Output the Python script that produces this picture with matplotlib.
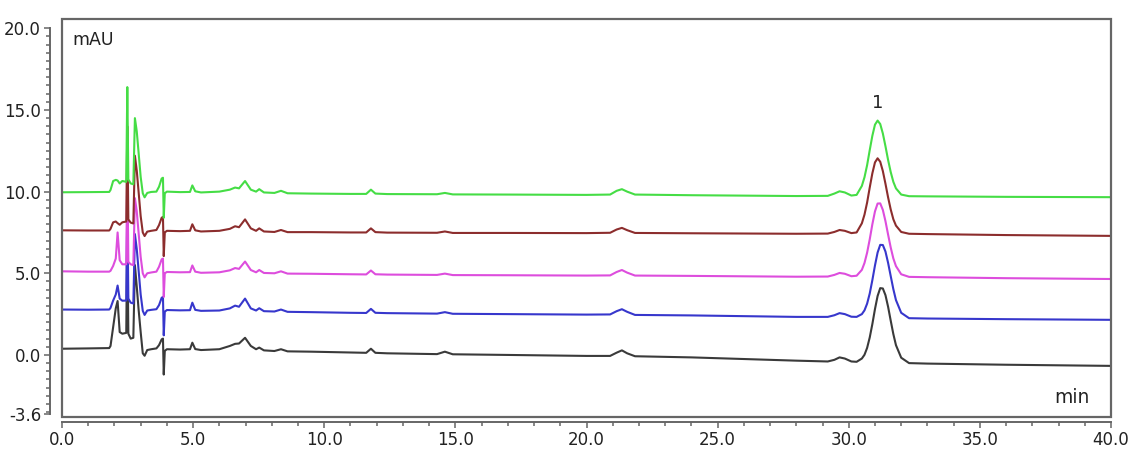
import matplotlib
matplotlib.use("Agg")
import matplotlib.pyplot as plt
from matplotlib.patches import Rectangle
from matplotlib.ticker import MultipleLocator, FixedLocator, FormatStrFormatter
import numpy as np

# retention time grid (min), shared by all five runs
t_min = [
    # early / solvent front region
    0.0, 1.0, 1.8, 1.85, 1.95, 2.05, 2.12, 2.2, 2.3, 2.45,
    2.49, 2.53, 2.62, 2.72, 2.78, 2.85, 2.92, 3.0, 3.08, 3.15,
    3.25, 3.4, 3.6, 3.7, 3.8, 3.85, 3.88, 3.92, 4.0,
    # small peaks
    4.5, 4.88, 4.97, 5.08, 5.3, 6.0, 6.4, 6.6, 6.75, 6.98,
    7.2, 7.4, 7.52, 7.7, 8.1, 8.35, 8.6, 9.5, 11.0, 11.6,
    11.78, 11.95, 12.4, 14.3, 14.6, 14.9, 17.0, 20.0, 20.9, 21.15,
    21.35, 21.55, 21.85, 24.0, 28.0, 29.2, 29.45, 29.65, 29.85, 30.1,
    # peak 1
    30.3, 30.5, 30.6, 30.7, 30.8, 30.9, 31.0, 31.1, 31.2, 31.3,
    31.4, 31.5, 31.6, 31.7, 31.8, 32.0, 32.3, 33.0, 36.0, 40.0,
]

green_mau = [
    9.96, 9.97, 9.98, 10.1, 10.65, 10.72, 10.68, 10.5, 10.65, 10.6,
    16.4, 10.75, 10.5, 10.45, 14.5, 13.7, 12.4, 10.9, 9.9, 9.65,
    9.92, 9.98, 10.0, 10.3, 10.8, 10.85, 8.4, 9.9, 10.0,
    9.97, 9.98, 10.38, 10.02, 9.95, 10.0, 10.12, 10.25, 10.2, 10.65,
    10.12, 10.0, 10.15, 9.95, 9.92, 10.05, 9.9, 9.88, 9.86, 9.86,
    10.12, 9.88, 9.85, 9.84, 9.92, 9.83, 9.82, 9.8, 9.82, 10.05,
    10.15, 10.0, 9.82, 9.78, 9.73, 9.74, 9.88, 10.02, 9.95, 9.76,
    9.8, 10.35, 10.88, 11.62, 12.54, 13.42, 14.1, 14.35, 14.14, 13.56,
    12.78, 11.94, 11.2, 10.6, 10.2, 9.82, 9.72, 9.71, 9.68, 9.66,
]

brown_mau = [
    7.63, 7.62, 7.62, 7.72, 8.12, 8.17, 8.07, 7.97, 8.12, 8.17,
    14.0, 8.3, 8.1, 8.05, 12.2, 11.3, 10.0, 8.5, 7.5, 7.28,
    7.55, 7.6, 7.65, 7.95, 8.4, 8.45, 6.05, 7.5, 7.6,
    7.58, 7.6, 8.0, 7.63, 7.56, 7.6, 7.72, 7.88, 7.82, 8.3,
    7.75, 7.6, 7.75, 7.56, 7.53, 7.65, 7.52, 7.52, 7.5, 7.5,
    7.75, 7.52, 7.49, 7.48, 7.56, 7.47, 7.47, 7.46, 7.48, 7.68,
    7.78, 7.64, 7.47, 7.45, 7.42, 7.43, 7.53, 7.65, 7.6, 7.46,
    7.5, 8.06, 8.59, 9.33, 10.25, 11.12, 11.79, 12.04, 11.83, 11.26,
    10.48, 9.65, 8.91, 8.31, 7.92, 7.53, 7.42, 7.4, 7.34, 7.29,
]

magenta_mau = [
    5.12, 5.1, 5.1, 5.15, 5.45, 5.9, 7.5, 5.8, 5.55, 5.55,
    11.5, 5.7, 5.55, 5.5, 9.6, 8.8, 7.5, 6.0, 5.0, 4.75,
    5.0, 5.05, 5.1, 5.4, 5.85, 5.9, 3.55, 5.0, 5.08,
    5.06, 5.07, 5.48, 5.1, 5.03, 5.06, 5.18, 5.32, 5.27, 5.72,
    5.2, 5.06, 5.2, 5.02, 5.0, 5.12, 4.98, 4.97, 4.94, 4.93,
    5.17, 4.94, 4.92, 4.9, 4.98, 4.89, 4.88, 4.86, 4.87, 5.08,
    5.2, 5.04, 4.86, 4.84, 4.79, 4.8, 4.9, 5.02, 4.97, 4.82,
    4.85, 5.21, 5.63, 6.26, 7.08, 8.0, 8.79, 9.27, 9.28, 8.88,
    8.19, 7.37, 6.58, 5.91, 5.44, 4.94, 4.78, 4.76, 4.7, 4.65,
]

blue_mau = [
    2.78, 2.77, 2.78, 2.88, 3.33, 3.7, 4.25, 3.45, 3.32, 3.33,
    9.3, 3.45, 3.2, 3.15, 7.4, 6.5, 5.2, 3.7, 2.7, 2.45,
    2.72, 2.76, 2.8, 3.05, 3.5, 3.55, 1.2, 2.65, 2.75,
    2.73, 2.74, 3.2, 2.76, 2.7, 2.72, 2.85, 3.02, 2.95, 3.45,
    2.85, 2.72, 2.86, 2.68, 2.66, 2.78, 2.64, 2.62, 2.58, 2.57,
    2.82, 2.58, 2.56, 2.53, 2.62, 2.52, 2.5, 2.47, 2.48, 2.68,
    2.8, 2.64, 2.45, 2.42, 2.33, 2.33, 2.43, 2.56, 2.5, 2.34,
    2.33, 2.5, 2.73, 3.14, 3.76, 4.58, 5.48, 6.27, 6.74, 6.73,
    6.33, 5.64, 4.83, 4.03, 3.36, 2.58, 2.25, 2.23, 2.19, 2.15,
]

black_mau = [
    0.38, 0.4, 0.42, 0.55, 1.7, 2.85, 3.3, 1.4, 1.3, 1.35,
    7.7, 1.3, 1.0, 1.05, 5.5, 4.2, 2.8, 1.4, 0.1, -0.05,
    0.3, 0.35, 0.4, 0.6, 0.95, 1.0, -1.2, 0.25, 0.35,
    0.33, 0.35, 0.75, 0.36, 0.3, 0.35, 0.55, 0.68, 0.7, 1.05,
    0.55, 0.35, 0.45, 0.28, 0.24, 0.35, 0.22, 0.2, 0.15, 0.13,
    0.38, 0.13, 0.1, 0.05, 0.2, 0.04, 0.0, -0.06, -0.06, 0.14,
    0.28, 0.1, -0.08, -0.15, -0.35, -0.4, -0.3, -0.15, -0.22, -0.4,
    -0.42, -0.22, 0.01, 0.43, 1.07, 1.89, 2.81, 3.61, 4.09, 4.07,
    3.66, 2.95, 2.1, 1.28, 0.6, -0.17, -0.5, -0.53, -0.6, -0.67,
]

# drawn bottom to top, green ends up on top as in the original
runs = [
    (black_mau, "#3a3a3a"),
    (blue_mau, "#3737cc"),
    (magenta_mau, "#dd4ddd"),
    (brown_mau, "#8c2d2d"),
    (green_mau, "#45dd45"),
]

y_major = [-3.6, 0, 5, 10, 15, 20]
y_minor = [v / 2 for v in range(-7, 40)]

plt.rcParams["font.family"] = ["DejaVu Sans"]

fig = plt.figure(figsize=(11.29, 4.5), dpi=100)
ax = fig.add_axes([62 / 1129, 1 - 417 / 450, 1049 / 1129, 398 / 450])

for i, (vals, col) in enumerate(runs):
    ax.plot(t_min, vals, color=col, lw=1.5, zorder=2 + i,
            solid_joinstyle="round")

ax.set_xlim(0, 40)
ax.set_ylim(-3.8, 20.57)

axis_col = "#666666"
# plot frame
ax.add_patch(Rectangle((0, 0), 1, 1, transform=ax.transAxes, fill=False,
                       lw=1.6, ec=axis_col, clip_on=False, zorder=10))

ax.spines["top"].set_visible(False)
ax.spines["right"].set_visible(False)
ax.spines["left"].set_position(("outward", 8.6))
ax.spines["bottom"].set_position(("outward", 3.6))
ax.spines["left"].set_bounds(-3.6, 20.0)
ax.spines["bottom"].set_bounds(0, 40)
for s in ("left", "bottom"):
    ax.spines[s].set_color(axis_col)
    ax.spines[s].set_linewidth(1.4)

ax.set_yticks(y_major)
ax.yaxis.set_minor_locator(FixedLocator(y_minor))
ax.xaxis.set_major_locator(MultipleLocator(5))
ax.xaxis.set_minor_locator(MultipleLocator(1))
ax.xaxis.set_major_formatter(FormatStrFormatter("%.1f"))
ax.yaxis.set_major_formatter(FormatStrFormatter("%.1f"))

ax.tick_params(which="both", direction="out", color=axis_col, width=1.1,
               labelsize=12, labelcolor="#222222")
ax.tick_params(which="major", length=4.5, pad=2)
ax.tick_params(which="minor", length=3)

ax.text(0.01, 0.947, "mAU", transform=ax.transAxes, fontsize=12.5,
        ha="left", va="center", color="#222222")
ax.text(0.98, 0.048, "min", transform=ax.transAxes, fontsize=13.5,
        ha="right", va="center", color="#222222")
ax.text(31.1, 15.45, "1", fontsize=13, ha="center", va="center",
        color="#222222")

fig.savefig("out.png", dpi=100, facecolor="white")
